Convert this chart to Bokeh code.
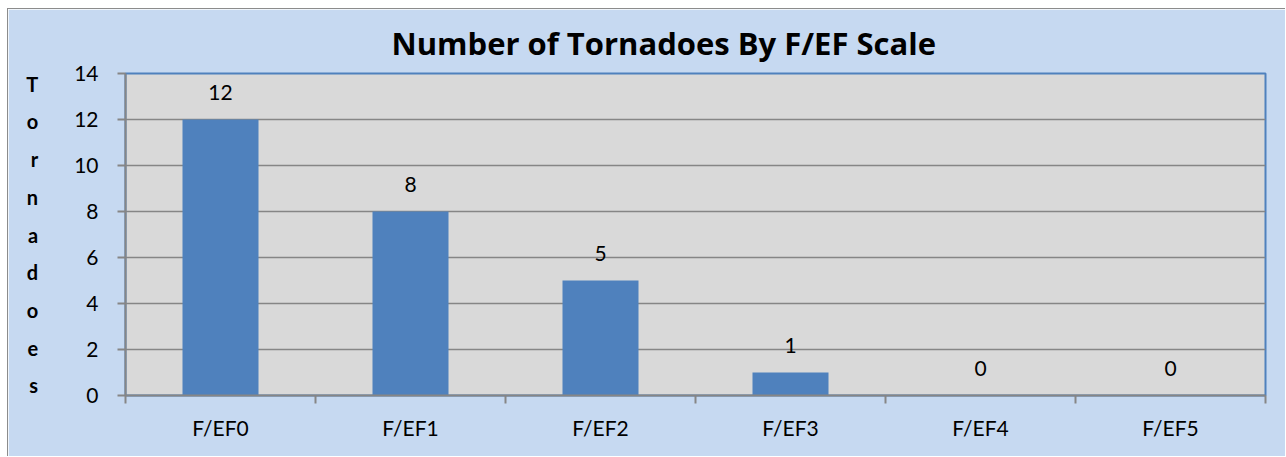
from bokeh.plotting import figure
from bokeh.models import ColumnDataSource, FixedTicker, Range1d
from bokeh.core.properties import value
from bokeh.embed import file_html
from bokeh.resources import INLINE

categories = ["F/EF0", "F/EF1", "F/EF2", "F/EF3", "F/EF4", "F/EF5"]
tornadoes = [12, 8, 5, 1, 0, 0]
y_ticks = [0, 2, 4, 6, 8, 10, 12, 14]
title_text = "Number of Tornadoes By F/EF Scale"
y_title = "Tornadoes"

FONT = "Lato"
TITLE_FONT = "Open Sans"
BG = "#C6D9F1"
PLOT_BG = "#D9D9D9"
BAR = "#4F81BD"
GRID = "#868686"

xs = [i + 0.5 for i in range(len(categories))]
src = ColumnDataSource(dict(x=xs, top=tornadoes, lbl=[str(v) for v in tornadoes]))

p = figure(width=1278, height=448, output_backend="svg", toolbar_location=None,
           x_range=Range1d(0, len(categories)), y_range=Range1d(0, 14),
           min_border_left=117, min_border_top=64, min_border_right=21, min_border_bottom=62)
p.background_fill_color = PLOT_BG
p.border_fill_color = BG
p.outline_line_color = BAR
p.outline_line_width = 2

p.vbar(x="x", top="top", bottom=0, width=0.4, source=src, fill_color=BAR, line_color=None)
p.text(x="x", y="top", text="lbl", source=src, y_offset=-27, text_align="center",
       text_baseline="middle", text_font=value(FONT), text_font_size="21px", text_color="black")

# x axis
p.xaxis.ticker = FixedTicker(ticks=xs, minor_ticks=list(range(len(categories) + 1)))
p.xaxis.major_label_overrides = {x: c for x, c in zip(xs, categories)}
p.xaxis.major_tick_out = 0
p.xaxis.major_tick_in = 0
p.xaxis.minor_tick_out = 8
p.xaxis.minor_tick_in = 0
p.xaxis.minor_tick_line_color = GRID
p.xaxis.minor_tick_line_width = 2
p.xaxis.major_label_standoff = 11
p.xgrid.visible = False

# y axis
p.yaxis.ticker = FixedTicker(ticks=y_ticks)
p.yaxis.major_tick_out = 8
p.yaxis.major_tick_in = 0
p.yaxis.minor_tick_line_color = None
p.yaxis.major_tick_line_color = GRID
p.yaxis.major_tick_line_width = 2
p.yaxis.major_label_standoff = 19
p.ygrid.grid_line_color = GRID
p.ygrid.grid_line_width = 1.5

p.yaxis.axis_label = "\n".join(y_title)
p.yaxis.axis_label_orientation = "horizontal"
p.yaxis.axis_label_text_font = FONT
p.yaxis.axis_label_text_font_size = "20px"
p.yaxis.axis_label_text_font_style = "bold"
p.yaxis.axis_label_text_line_height = 1.57
p.yaxis.axis_label_text_color = "black"
p.yaxis.axis_label_standoff = 33

for ax in (p.xaxis, p.yaxis):
    ax.axis_line_color = GRID
    ax.axis_line_width = 2
    ax.major_label_text_font = FONT
    ax.major_label_text_font_size = "21px"
    ax.major_label_text_color = "black"

# title
p.title.text = title_text
p.title.text_font = TITLE_FONT
p.title.text_font_size = "31px"
p.title.text_font_style = "bold"
p.title.text_color = "black"
p.title.align = "left"
p.title.offset = 266
p.title.standoff = 19

p.styles = {"margin-left": "7px", "margin-top": "8px",
            "border-left": "1px solid #8c8c8c", "border-top": "1px solid #8c8c8c"}

open("out.html", "w").write(file_html(p, INLINE))
